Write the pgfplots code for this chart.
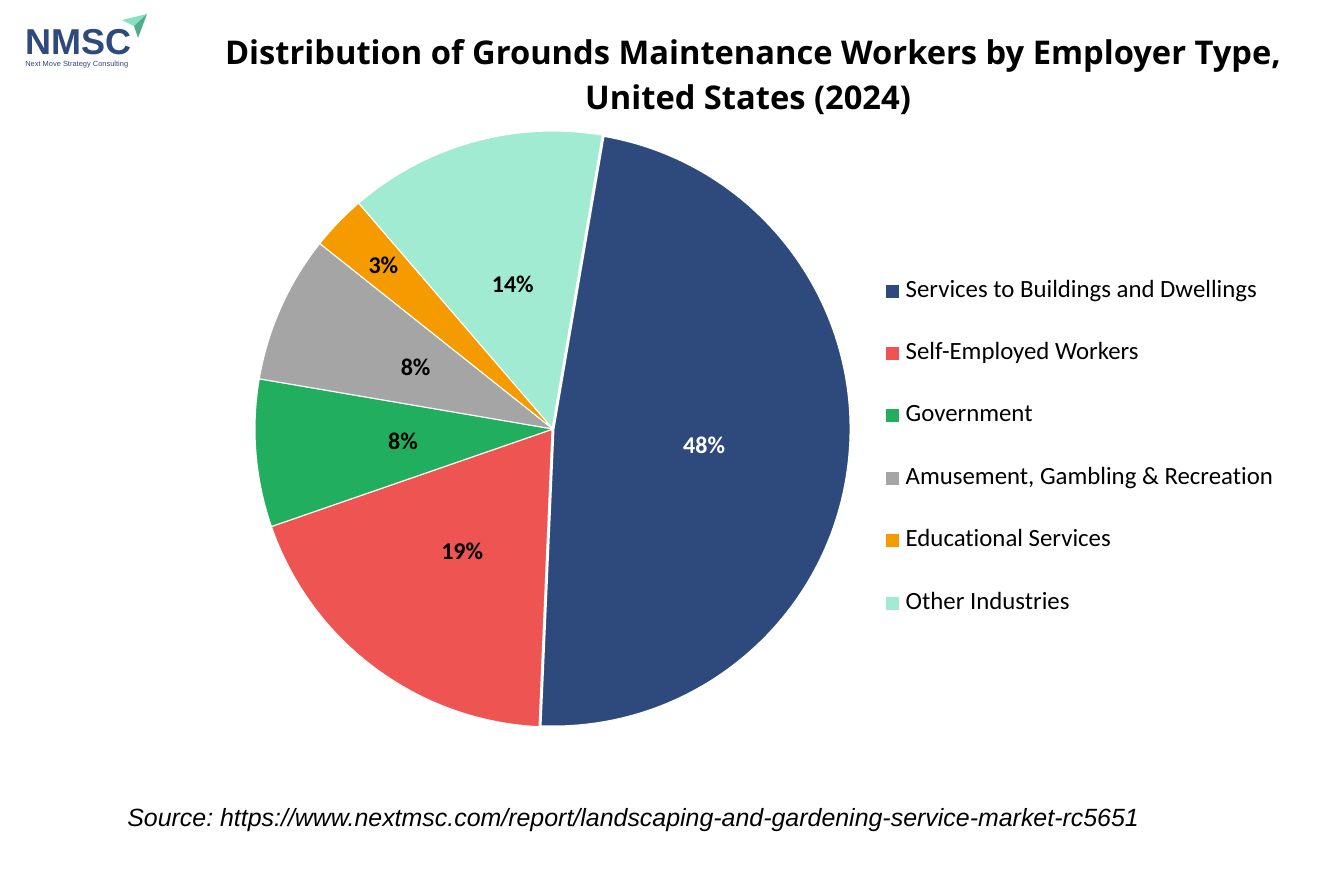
\documentclass[border=0pt]{standalone}
\usepackage{pgfplots}
\usepackage{pgfplotstable}
\pgfplotsset{compat=1.18}
\usepackage{fontspec}
\setmainfont{Carlito}[Ligatures=NoCommon]
\newfontfamily\arialfont{Liberation Sans}
\newfontfamily\titlefont{Open Sans}[Ligatures=NoCommon]

\definecolor{pie0}{HTML}{2E4A7D}
\definecolor{pie1}{HTML}{EE5552}
\definecolor{pie2}{HTML}{22AE5F}
\definecolor{pie3}{HTML}{A5A5A5}
\definecolor{pie4}{HTML}{F59B00}
\definecolor{pie5}{HTML}{A1EBD3}
\colorlet{lbl0}{white}
\colorlet{lbl1}{black}
\colorlet{lbl2}{black}
\colorlet{lbl3}{black}
\colorlet{lbl4}{black}
\colorlet{lbl5}{black}
\definecolor{logoblue}{HTML}{2E4A7D}
\definecolor{logogreen}{HTML}{86E0C3}
\definecolor{logodark}{HTML}{4FAF8D}

% shares of the six employer types (percent), label radius fraction
\pgfplotstableread{
share lr
48 0.51
19 0.51
8 0.505
8 0.505
3 0.79
14 0.505
}\piedata

\gdef\piecur{80.3}%
\pgfplotsforeachungrouped \i in {0,...,5}{%
  \pgfplotstablegetelem{\i}{share}\of\piedata
  \let\pv\pgfplotsretval
  \pgfplotstablegetelem{\i}{lr}\of\piedata
  \let\plr\pgfplotsretval
  \pgfmathsetmacro\pend{\piecur-3.6*\pv}%
  \pgfmathsetmacro\pmid{(\piecur+\pend)/2}%
  \expandafter\xdef\csname piesa\i\endcsname{\piecur}%
  \expandafter\xdef\csname pieea\i\endcsname{\pend}%
  \expandafter\xdef\csname piema\i\endcsname{\pmid}%
  \expandafter\xdef\csname piepv\i\endcsname{\pv}%
  \expandafter\xdef\csname pielr\i\endcsname{\plr}%
  \xdef\piecur{\pend}%
}%

\begin{document}
\begin{tikzpicture}
\begin{axis}[
  x=0.75pt, y=0.75pt,
  xmin=0, xmax=1334, ymin=0, ymax=889,
  y dir=reverse,
  hide axis, clip=false, enlargelimits=false,
  legend image code/.code={\fill[#1, draw=none] (0pt,-4.875pt) rectangle (9.75pt,4.875pt);},
  legend style={at={(0.6642,0.6853)}, anchor=north west, draw=none, fill=none,
    inner sep=0pt, outer sep=0pt, row sep=29.8pt, column sep=5.0pt,
    font=\fontsize{18.6}{21}\selectfont,
    nodes={inner sep=0pt, text height=13pt, text depth=4pt}},
  legend cell align=left,
]
\path (axis cs:0,0) rectangle (axis cs:1334,889);

% slices
\pgfplotsinvokeforeach{1,...,5}{
  \draw[fill=pie#1, draw=white, line width=0.8pt, line join=round]
    (axis cs:553,429) -- ++(\csname piesa#1\endcsname:223.5pt)
    arc[start angle=\csname piesa#1\endcsname, end angle=\csname pieea#1\endcsname, radius=223.5pt] -- cycle;
}
\draw[fill=pie0, draw=white, line width=2.25pt, line join=round]
    (axis cs:553,429) -- ++(\csname piesa0\endcsname:223.5pt)
    arc[start angle=\csname piesa0\endcsname, end angle=\csname pieea0\endcsname, radius=223.5pt] -- cycle;

% percentage labels
\pgfplotsinvokeforeach{0,...,5}{
  \path (axis cs:553,429) ++(\csname piema#1\endcsname:\csname pielr#1\endcsname*223.5pt)
    node[font=\fontsize{18}{20}\selectfont\bfseries, text=lbl#1] {\csname piepv#1\endcsname\%};
}

\addlegendimage{fill=pie0}\addlegendentry{Services to Buildings and Dwellings}
\addlegendimage{fill=pie1}\addlegendentry{Self-Employed Workers}
\addlegendimage{fill=pie2}\addlegendentry{Government}
\addlegendimage{fill=pie3}\addlegendentry{Amusement, Gambling \& Recreation}
\addlegendimage{fill=pie4}\addlegendentry{Educational Services}
\addlegendimage{fill=pie5}\addlegendentry{Other Industries}

% title
\node[anchor=base, inner sep=0pt, font=\titlefont\fontsize{24.5}{28}\selectfont\bfseries] at (axis cs:753,64)
  {Distribution of Grounds Maintenance Workers by Employer Type,};
\node[anchor=base, inner sep=0pt, font=\titlefont\fontsize{24.5}{28}\selectfont\bfseries] at (axis cs:748,109)
  {United States (2024)};

% source
\node[anchor=base west, inner sep=0pt, font=\arialfont\itshape\fontsize{18.7}{20}\selectfont] at (axis cs:127,826)
  {\frenchspacing Source: https://www.nextmsc.com/report/landscaping-and-gardening-service-market-rc5651};

% logo
\node[anchor=base west, inner sep=0pt, text=logoblue, font=\arialfont\bfseries\fontsize{27}{30}\selectfont] at (axis cs:25,54) {NMSC};
\node[anchor=base west, inner sep=0pt, text=logoblue, font=\arialfont\fontsize{5.6}{6}\selectfont] at (axis cs:25,66) {Next Move Strategy Consulting};
\fill[logogreen] (axis cs:122,20) -- (axis cs:147,14) -- (axis cs:134,26) -- cycle;
\fill[logodark] (axis cs:134,26) -- (axis cs:147,14) -- (axis cs:138,38) -- cycle;
\end{axis}
\end{tikzpicture}
\end{document}
